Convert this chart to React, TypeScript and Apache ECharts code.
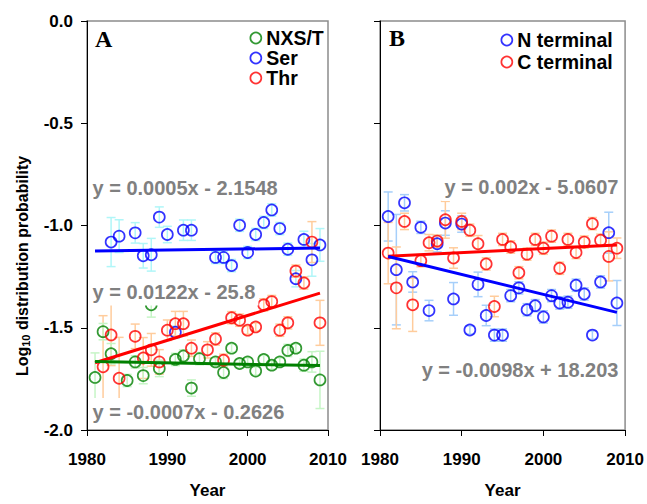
import React, { useEffect, useRef } from "react";
import * as echarts from "echarts";

// ---------- Panel A: amino-acid classes ----------
const nxsYears = [1981, 1982, 1983, 1985, 1986, 1987, 1988, 1989, 1991, 1992, 1993, 1994, 1996, 1997, 1998, 1999, 2000, 2001, 2002, 2003, 2004, 2005, 2006, 2007, 2008, 2009];
const nxsValues = [-1.743, -1.519, -1.627, -1.758, -1.667, -1.734, -1.388, -1.699, -1.655, -1.638, -1.795, -1.651, -1.667, -1.719, -1.6, -1.675, -1.667, -1.712, -1.655, -1.683, -1.667, -1.611, -1.6, -1.683, -1.667, -1.755];
const nxsErrors = [0.12, 0.04, 0.05, 0.03, 0.03, 0.04, 0.06, 0.04, 0.03, 0.03, 0.04, 0.03, 0.02, 0.03, 0.02, 0.02, 0.02, 0.02, 0.02, 0.02, 0.02, 0.03, 0.02, 0.03, 0.05, 0.14];

const serYears = [1983, 1984, 1986, 1987, 1988, 1989, 1990, 1991, 1992, 1993, 1996, 1997, 1998, 1999, 2000, 2001, 2002, 2003, 2004, 2005, 2006, 2007, 2008, 2009];
const serValues = [-1.081, -1.052, -1.036, -1.148, -1.143, -0.959, -1.044, -1.522, -1.023, -1.023, -1.156, -1.156, -1.196, -0.999, -1.132, -1.044, -0.985, -0.924, -1.015, -1.116, -1.26, -1.068, -1.168, -1.095];
const serErrors = [0.12, 0.08, 0.05, 0.06, 0.08, 0.05, 0.04, 0.03, 0.05, 0.05, 0.03, 0.03, 0.03, 0.03, 0.03, 0.03, 0.03, 0.03, 0.03, 0.03, 0.04, 0.04, 0.08, 0.08];

const thrYears = [1982, 1983, 1984, 1986, 1987, 1988, 1989, 1990, 1991, 1992, 1993, 1995, 1996, 1997, 1998, 1999, 2000, 2001, 2002, 2003, 2004, 2005, 2006, 2007, 2008, 2009];
const thrValues = [-1.691, -1.535, -1.747, -1.542, -1.648, -1.608, -1.667, -1.512, -1.48, -1.48, -1.6, -1.608, -1.555, -1.659, -1.451, -1.463, -1.512, -1.496, -1.388, -1.372, -1.512, -1.476, -1.223, -1.281, -1.081, -1.476];
const thrErrors = [0.25, 0.15, 0.2, 0.06, 0.1, 0.08, 0.06, 0.05, 0.06, 0.06, 0.04, 0.04, 0.03, 0.03, 0.03, 0.03, 0.02, 0.02, 0.03, 0.03, 0.03, 0.03, 0.03, 0.03, 0.1, 0.11];

// ---------- Panel B: protein termini ----------
const termYears = [1981, 1982, 1983, 1984, 1985, 1986, 1987, 1988, 1989, 1990, 1991, 1992, 1993, 1994, 1995, 1996, 1997, 1998, 1999, 2000, 2001, 2002, 2003, 2004, 2005, 2006, 2007, 2008, 2009];
const nTermValues = [-0.956, -1.216, -0.889, -1.276, -1.009, -1.416, -1.089, -0.988, -1.359, -0.993, -1.511, -1.288, -1.44, -1.536, -1.536, -1.343, -1.305, -1.412, -1.392, -1.447, -1.343, -1.379, -1.375, -1.292, -1.335, -1.536, -1.276, -1.035, -1.379];
const nTermErrors = [0.12, 0.27, 0.04, 0.05, 0.03, 0.05, 0.04, 0.06, 0.08, 0.04, 0.02, 0.06, 0.05, 0.03, 0.03, 0.03, 0.03, 0.03, 0.03, 0.03, 0.03, 0.03, 0.03, 0.03, 0.03, 0.02, 0.03, 0.1, 0.11];
const cTermValues = [-1.135, -1.305, -0.98, -1.388, -1.172, -1.084, -1.076, -0.972, -1.159, -0.98, -1.023, -1.089, -1.188, -1.396, -1.068, -1.105, -1.231, -1.14, -1.068, -1.111, -1.052, -1.209, -1.068, -1.132, -1.081, -0.991, -1.072, -1.151, -1.111];
const cTermErrors = [0.15, 0.2, 0.04, 0.13, 0.03, 0.04, 0.03, 0.09, 0.05, 0.04, 0.03, 0.04, 0.03, 0.05, 0.03, 0.03, 0.03, 0.03, 0.03, 0.03, 0.03, 0.03, 0.03, 0.03, 0.03, 0.03, 0.03, 0.12, 0.05];

// Linear fits (slope, intercept) and their printed equations
const fitSpan = [1981, 2009];
const serFit = [0.00052, -2.1548];
const thrFit = [0.01218, -25.8];
const nxsFit = [-0.000708, -0.2626];
const cTermFit = [0.001974, -5.0607];
const nTermFit = [-0.00977, 18.203];
const serEq = "y = 0.0005x - 2.1548";
const thrEq = "y = 0.0122x - 25.8";
const nxsEq = "y = -0.0007x - 0.2626";
const cTermEq = "y = 0.002x - 5.0607";
const nTermEq = "y = -0.0098x + 18.203";

// Axis ticks
const yearTicks = { min: 1980, max: 2010, interval: 10 };
const logTicks = { min: -2, max: 0, interval: 0.5 };

const FONT = 'Arial, "Liberation Sans", sans-serif';
const GREEN = "#008000";
const BLUE = "#0000ff";
const RED = "#ff0000";

function scatter(name: string, xi: number, years: number[], values: number[], color: string) {
  return {
    name,
    type: "scatter",
    xAxisIndex: xi,
    yAxisIndex: xi,
    symbol: "circle",
    symbolSize: 11,
    itemStyle: { color: "rgba(0,0,0,0)", borderColor: color, borderWidth: 1.7 },
    data: years.map((y, i) => [y, values[i]]),
    z: 3,
    silent: true,
  };
}

function errorBars(xi: number, years: number[], values: number[], errors: number[], color: string) {
  const data = years
    .map((y, i) => [y, values[i] - errors[i], values[i] + errors[i]])
    .filter((_, i) => errors[i] > 0);
  return {
    type: "custom",
    xAxisIndex: xi,
    yAxisIndex: xi,
    silent: true,
    z: 1,
    encode: { x: 0, y: [1, 2] },
    data,
    renderItem: (_params: any, api: any) => {
      const x = api.value(0);
      const lo = api.coord([x, api.value(1)]);
      const hi = api.coord([x, api.value(2)]);
      const cap = 4.5;
      const style = { stroke: color, lineWidth: 1.5, fill: "none" };
      return {
        type: "group",
        children: [
          { type: "line", shape: { x1: lo[0], y1: lo[1], x2: hi[0], y2: hi[1] }, style },
          { type: "line", shape: { x1: lo[0] - cap, y1: lo[1], x2: lo[0] + cap, y2: lo[1] }, style },
          { type: "line", shape: { x1: hi[0] - cap, y1: hi[1], x2: hi[0] + cap, y2: hi[1] }, style },
        ],
      };
    },
  };
}

function trend(name: string, xi: number, fit: number[], color: string) {
  return {
    name,
    type: "line",
    xAxisIndex: xi,
    yAxisIndex: xi,
    symbol: "none",
    silent: true,
    z: 4,
    lineStyle: { color, width: 3 },
    data: fitSpan.map((x) => [x, fit[0] * x + fit[1]]),
  };
}

function xAxis(gridIndex: number) {
  return {
    gridIndex,
    type: "value",
    ...yearTicks,
    name: "Year",
    nameLocation: "middle",
    nameGap: 52,
    nameTextStyle: { fontFamily: FONT, fontWeight: "bold", fontSize: 17, color: "#000" },
    axisLine: { show: true, onZero: false, lineStyle: { color: "#000", width: 1 } },
    axisTick: { show: true, inside: false, length: 6, lineStyle: { color: "#000" } },
    axisLabel: {
      fontFamily: FONT,
      fontWeight: "bold",
      fontSize: 17,
      color: "#000",
      margin: 21,
      formatter: (v: number) => String(v),
    },
    splitLine: { show: false },
  };
}

function yAxis(gridIndex: number, labels: boolean) {
  return {
    gridIndex,
    type: "value",
    ...logTicks,
    axisLine: { show: true, onZero: false, lineStyle: { color: "#000", width: 1 } },
    axisTick: { show: true, inside: false, length: 6, lineStyle: { color: "#000" } },
    axisLabel: {
      show: labels,
      fontFamily: FONT,
      fontWeight: "bold",
      fontSize: 17,
      color: "#000",
      margin: 14,
      formatter: (v: number) => v.toFixed(1),
    },
    splitLine: { show: false },
  };
}

function eqLabel(text: string, x: number, y: number, align: string) {
  return {
    type: "text",
    x,
    y,
    z: 100,
    silent: true,
    style: {
      text,
      fill: "#808080",
      font: `bold 20px ${FONT}`,
      align,
      verticalAlign: "middle",
      backgroundColor: "#fff",
      padding: [4, 3, 4, 3],
    },
  };
}

function legendItem(name: string, color: string) {
  return {
    name,
    icon: "circle",
    itemStyle: { color: "rgba(0,0,0,0)", borderColor: color, borderWidth: 1.7 },
  };
}

export default function App() {
  const ref = useRef<HTMLDivElement>(null);

  useEffect(() => {
    if (!ref.current) return;
    const chart = echarts.init(ref.current, undefined, { renderer: "svg" });
    chart.setOption({
      animation: false,
      backgroundColor: "#fff",
      grid: [
        { left: 87, top: 21, width: 241, height: 417, show: true, borderColor: "#8c8c8c", borderWidth: 1.5 },
        { left: 380, top: 21, width: 246, height: 417, show: true, borderColor: "#8c8c8c", borderWidth: 1.5 },
      ],
      xAxis: [xAxis(0), xAxis(1)],
      yAxis: [yAxis(0, true), yAxis(1, false)],
      legend: [
        {
          orient: "vertical",
          left: 249.5,
          top: 28,
          padding: 0,
          itemGap: 0,
          itemWidth: 11,
          itemHeight: 11,
          selectedMode: false,
          textStyle: { fontFamily: FONT, fontWeight: "bold", fontSize: 19.5, color: "#000", lineHeight: 18.5 },
          data: [legendItem("NXS/T", GREEN), legendItem("Ser", BLUE), legendItem("Thr", RED)],
        },
        {
          orient: "vertical",
          left: 500.5,
          top: 29,
          padding: 0,
          itemGap: 0,
          itemWidth: 11,
          itemHeight: 11,
          selectedMode: false,
          textStyle: { fontFamily: FONT, fontWeight: "bold", fontSize: 19.5, color: "#000", lineHeight: 22 },
          data: [legendItem("N terminal", BLUE), legendItem("C terminal", RED)],
        },
      ],
      series: [
        errorBars(0, serYears, serValues, serErrors, "#b0f6f8"),
        errorBars(0, thrYears, thrValues, thrErrors, "#ffcc9c"),
        errorBars(0, nxsYears, nxsValues, nxsErrors, "#c6f5c6"),
        errorBars(1, termYears, nTermValues, nTermErrors, "#a6cffa"),
        errorBars(1, termYears, cTermValues, cTermErrors, "#ffcc9c"),
        scatter("NXS/T", 0, nxsYears, nxsValues, GREEN),
        scatter("Ser", 0, serYears, serValues, BLUE),
        scatter("Thr", 0, thrYears, thrValues, RED),
        scatter("N terminal", 1, termYears, nTermValues, BLUE),
        scatter("C terminal", 1, termYears, cTermValues, RED),
        trend("Ser fit", 0, serFit, BLUE),
        trend("Thr fit", 0, thrFit, RED),
        trend("NXS/T fit", 0, nxsFit, GREEN),
        trend("C terminal fit", 1, cTermFit, RED),
        trend("N terminal fit", 1, nTermFit, BLUE),
      ],
      graphic: [
        eqLabel(serEq, 89.5, 187.5, "left"),
        eqLabel(thrEq, 89.5, 291.5, "left"),
        eqLabel(nxsEq, 89.5, 412, "left"),
        eqLabel(cTermEq, 621.5, 187, "right"),
        eqLabel(nTermEq, 621.5, 370, "right"),
        {
          type: "text",
          x: 95,
          y: 39,
          z: 100,
          silent: true,
          style: { text: "A", font: 'bold 24px "Times New Roman", "Liberation Serif", serif', fill: "#000", align: "left", verticalAlign: "middle" },
        },
        {
          type: "text",
          x: 389,
          y: 38,
          z: 100,
          silent: true,
          style: { text: "B", font: 'bold 24px "Times New Roman", "Liberation Serif", serif', fill: "#000", align: "left", verticalAlign: "middle" },
        },
        {
          type: "text",
          x: 22,
          y: 266,
          rotation: Math.PI / 2,
          silent: true,
          style: {
            text: "{a|Log}{s|10}{a| distribution probability}",
            align: "center",
            verticalAlign: "middle",
            fill: "#000",
            rich: {
              a: { fontFamily: FONT, fontWeight: "bold", fontSize: 16, lineHeight: 20, fill: "#000" },
              s: { fontFamily: FONT, fontWeight: "bold", fontSize: 11, lineHeight: 20, padding: [8, 0, 0, 0], fill: "#000" },
            },
          },
        },
      ],
    });
    return () => chart.dispose();
  }, []);

  return (
    <div
      ref={ref}
      style={{ position: "fixed", left: 0, top: 0, width: 647, height: 504, background: "#fff" }}
    />
  );
}
